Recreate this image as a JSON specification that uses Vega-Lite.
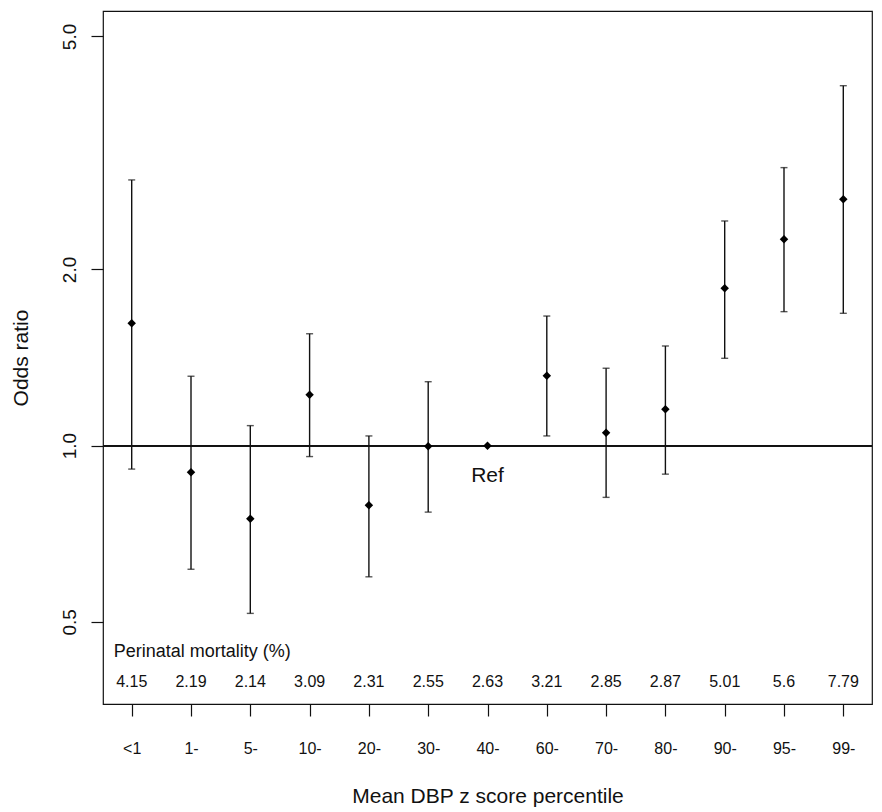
{
  "$schema": "https://vega.github.io/schema/vega-lite/v6.json",
  "width": 769,
  "height": 693,
  "autosize": {"type": "none"},
  "padding": {"left": 103, "top": 11, "right": 10, "bottom": 108},
  "background": "white",
  "config": {
    "font": "Liberation Sans",
    "view": {"stroke": "#111", "strokeWidth": 1.2},
    "axis": {"domain": false, "grid": false, "tickColor": "#111", "labelColor": "#111", "titleColor": "#111", "titleFontWeight": "normal", "labelFont": "Liberation Sans", "titleFont": "Liberation Sans"}
  },
  "data": {
    "values": [
      {"cat": "<1", "or": 1.619, "lo": 0.912, "hi": 2.844, "mort": "4.15"},
      {"cat": "1-", "or": 0.901, "lo": 0.615, "hi": 1.314, "mort": "2.19"},
      {"cat": "5-", "or": 0.750, "lo": 0.517, "hi": 1.082, "mort": "2.14"},
      {"cat": "10-", "or": 1.222, "lo": 0.958, "hi": 1.553, "mort": "3.09"},
      {"cat": "20-", "or": 0.791, "lo": 0.597, "hi": 1.039, "mort": "2.31"},
      {"cat": "30-", "or": 0.998, "lo": 0.770, "hi": 1.286, "mort": "2.55"},
      {"cat": "40-", "or": 1.0, "lo": null, "hi": null, "mort": "2.63"},
      {"cat": "60-", "or": 1.317, "lo": 1.039, "hi": 1.665, "mort": "3.21"},
      {"cat": "70-", "or": 1.052, "lo": 0.816, "hi": 1.356, "mort": "2.85"},
      {"cat": "80-", "or": 1.154, "lo": 0.894, "hi": 1.480, "mort": "2.87"},
      {"cat": "90-", "or": 1.857, "lo": 1.410, "hi": 2.420, "mort": "5.01"},
      {"cat": "95-", "or": 2.252, "lo": 1.694, "hi": 2.985, "mort": "5.6"},
      {"cat": "99-", "or": 2.635, "lo": 1.683, "hi": 4.120, "mort": "7.79"}
    ]
  },
  "encoding": {
    "x": {
      "field": "cat", "type": "ordinal", "sort": null,
      "scale": {"type": "point", "padding": 0.484, "domain": ["<1", "1-", "5-", "10-", "20-", "30-", "40-", "60-", "70-", "80-", "90-", "95-", "99-"]},
      "axis": {
        "title": "Mean DBP z score percentile",
        "labelAngle": 0, "labelFontSize": 16, "labelBaseline": "alphabetic", "labelPadding": 37,
        "tickSize": 12, "tickWidth": 1.2,
        "titleFontSize": 21, "titleBaseline": "alphabetic", "titleY": 98, "titleX": 384.5, "titleAnchor": "middle", "titleAlign": "center"
      }
    }
  },
  "layer": [
    {
      "mark": {"type": "rule", "color": "#111", "strokeWidth": 1.2},
      "encoding": {"x": null, "y": {"datum": 1, "type": "quantitative"}}
    },
    {
      "transform": [{"filter": "isValid(datum.lo)"}],
      "mark": {"type": "rule", "color": "#111", "strokeWidth": 1.4},
      "encoding": {
        "y": {"field": "lo", "type": "quantitative", "scale": {"type": "log", "domain": [0.362, 5.527], "nice": false, "zero": false},
          "axis": {
            "title": "Odds ratio", "values": [0.5, 1, 2, 5], "format": ".1f",
            "labelAngle": 270, "labelAlign": "center", "labelBaseline": "alphabetic", "labelFontSize": 19, "labelPadding": 16,
            "tickSize": 12, "tickWidth": 1.2,
            "titleFontSize": 21, "titleAngle": 270, "titleAlign": "center", "titleBaseline": "alphabetic", "titleX": -76, "titleY": 346.5
          }},
        "y2": {"field": "hi"}
      }
    },
    {
      "transform": [{"filter": "isValid(datum.lo)"}],
      "mark": {"type": "tick", "color": "#111", "size": 7, "thickness": 1.4},
      "encoding": {"y": {"field": "lo", "type": "quantitative"}}
    },
    {
      "transform": [{"filter": "isValid(datum.hi)"}],
      "mark": {"type": "tick", "color": "#111", "size": 7, "thickness": 1.4},
      "encoding": {"y": {"field": "hi", "type": "quantitative"}}
    },
    {
      "mark": {"type": "point", "shape": "diamond", "filled": true, "color": "#000", "size": 72, "opacity": 1},
      "encoding": {"y": {"field": "or", "type": "quantitative"}}
    },
    {
      "mark": {"type": "text", "fontSize": 16, "baseline": "alphabetic", "align": "center", "color": "#111"},
      "encoding": {"y": {"datum": 0.3877, "type": "quantitative"}, "text": {"field": "mort", "type": "nominal"}}
    },
    {
      "data": {"values": [{"label": "Perinatal mortality (%)", "cat": "<1"}]},
      "mark": {"type": "text", "fontSize": 18, "baseline": "alphabetic", "align": "left", "dx": -18, "color": "#111"},
      "encoding": {"x": {"field": "cat", "type": "ordinal"}, "y": {"datum": 0.436, "type": "quantitative"}, "text": {"field": "label"}}
    },
    {
      "data": {"values": [{"label": "Ref", "cat": "40-"}]},
      "mark": {"type": "text", "fontSize": 21, "baseline": "alphabetic", "align": "center", "color": "#111"},
      "encoding": {"x": {"field": "cat", "type": "ordinal"}, "y": {"datum": 0.868, "type": "quantitative"}, "text": {"field": "label"}}
    }
  ]
}
